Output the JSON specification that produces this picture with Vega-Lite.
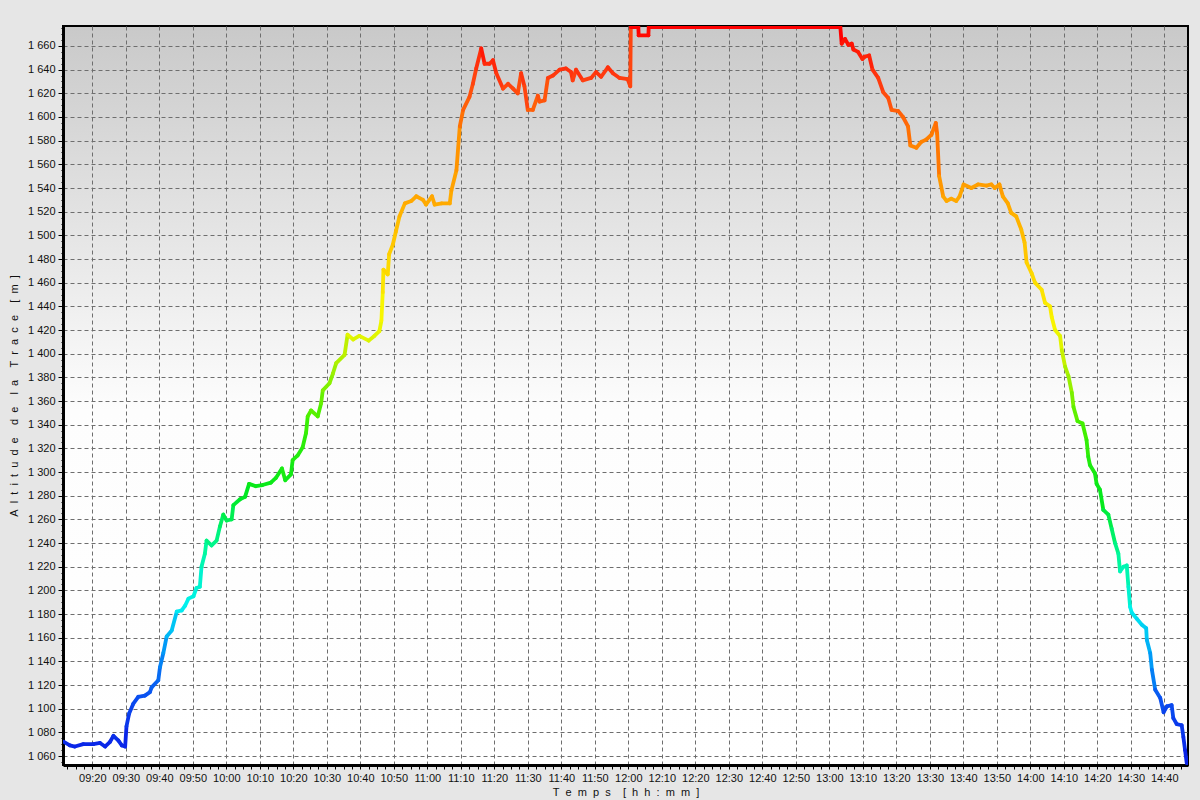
{
 "$schema": "https://vega.github.io/schema/vega-lite/v6.json",
 "width": 1125,
 "height": 739,
 "autosize": "none",
 "padding": {"left": 63, "top": 26, "right": 12, "bottom": 35},
 "background": "#e6e6e6",
 "config": {
  "view": {
   "fill": {"gradient": "linear", "x1": 0, "y1": 0, "x2": 0, "y2": 1,
    "stops": [{"offset": 0, "color": "#c9c9c9"}, {"offset": 0.52, "color": "#fdfdfd"}, {"offset": 1, "color": "#ffffff"}]},
   "stroke": "#000000",
   "strokeWidth": 2
  },
  "axis": {
   "labelFont": "Liberation Sans", "labelFontSize": 11, "labelColor": "#111111",
   "titleFont": "Liberation Sans", "titleFontSize": 11, "titleFontWeight": "normal", "titleColor": "#111111",
   "domainColor": "#000000", "domainWidth": 3, "tickColor": "#000000", "tickWidth": 1,
   "gridColor": "#6e6e6e", "gridDash": [4, 3], "gridWidth": 1
  }
 },
 "data": {"values": [
  {"t": "2024-01-01T09:11:30", "alt": 1072},
  {"t": "2024-01-01T09:13:18", "alt": 1069},
  {"t": "2024-01-01T09:14:48", "alt": 1068},
  {"t": "2024-01-01T09:17:18", "alt": 1070},
  {"t": "2024-01-01T09:20:18", "alt": 1070},
  {"t": "2024-01-01T09:22:18", "alt": 1071},
  {"t": "2024-01-01T09:23:48", "alt": 1068},
  {"t": "2024-01-01T09:25:18", "alt": 1072},
  {"t": "2024-01-01T09:26:18", "alt": 1077},
  {"t": "2024-01-01T09:27:48", "alt": 1073},
  {"t": "2024-01-01T09:28:48", "alt": 1069},
  {"t": "2024-01-01T09:29:48", "alt": 1068},
  {"t": "2024-01-01T09:30:12", "alt": 1085},
  {"t": "2024-01-01T09:31:00", "alt": 1096},
  {"t": "2024-01-01T09:32:12", "alt": 1104},
  {"t": "2024-01-01T09:33:42", "alt": 1110},
  {"t": "2024-01-01T09:35:42", "alt": 1111},
  {"t": "2024-01-01T09:37:12", "alt": 1114},
  {"t": "2024-01-01T09:37:42", "alt": 1118},
  {"t": "2024-01-01T09:39:42", "alt": 1124},
  {"t": "2024-01-01T09:40:12", "alt": 1135},
  {"t": "2024-01-01T09:41:12", "alt": 1147},
  {"t": "2024-01-01T09:42:12", "alt": 1161},
  {"t": "2024-01-01T09:43:42", "alt": 1166},
  {"t": "2024-01-01T09:45:12", "alt": 1182},
  {"t": "2024-01-01T09:46:42", "alt": 1183},
  {"t": "2024-01-01T09:47:42", "alt": 1187},
  {"t": "2024-01-01T09:48:42", "alt": 1193},
  {"t": "2024-01-01T09:50:12", "alt": 1195},
  {"t": "2024-01-01T09:51:06", "alt": 1202},
  {"t": "2024-01-01T09:52:06", "alt": 1203},
  {"t": "2024-01-01T09:52:36", "alt": 1220},
  {"t": "2024-01-01T09:53:36", "alt": 1231},
  {"t": "2024-01-01T09:54:06", "alt": 1242},
  {"t": "2024-01-01T09:55:36", "alt": 1238},
  {"t": "2024-01-01T09:57:06", "alt": 1242},
  {"t": "2024-01-01T09:58:06", "alt": 1254},
  {"t": "2024-01-01T09:59:06", "alt": 1264},
  {"t": "2024-01-01T10:00:06", "alt": 1259},
  {"t": "2024-01-01T10:01:36", "alt": 1260},
  {"t": "2024-01-01T10:02:06", "alt": 1272},
  {"t": "2024-01-01T10:04:06", "alt": 1277},
  {"t": "2024-01-01T10:05:36", "alt": 1279},
  {"t": "2024-01-01T10:06:48", "alt": 1290},
  {"t": "2024-01-01T10:08:48", "alt": 1288},
  {"t": "2024-01-01T10:10:48", "alt": 1289},
  {"t": "2024-01-01T10:13:18", "alt": 1291},
  {"t": "2024-01-01T10:14:48", "alt": 1295},
  {"t": "2024-01-01T10:16:36", "alt": 1303},
  {"t": "2024-01-01T10:17:36", "alt": 1293},
  {"t": "2024-01-01T10:19:18", "alt": 1298},
  {"t": "2024-01-01T10:19:48", "alt": 1310},
  {"t": "2024-01-01T10:21:18", "alt": 1314},
  {"t": "2024-01-01T10:22:48", "alt": 1321},
  {"t": "2024-01-01T10:23:48", "alt": 1333},
  {"t": "2024-01-01T10:24:18", "alt": 1347},
  {"t": "2024-01-01T10:25:18", "alt": 1352},
  {"t": "2024-01-01T10:27:18", "alt": 1347},
  {"t": "2024-01-01T10:28:18", "alt": 1358},
  {"t": "2024-01-01T10:28:48", "alt": 1369},
  {"t": "2024-01-01T10:30:48", "alt": 1375},
  {"t": "2024-01-01T10:31:48", "alt": 1383},
  {"t": "2024-01-01T10:32:48", "alt": 1392},
  {"t": "2024-01-01T10:35:18", "alt": 1399},
  {"t": "2024-01-01T10:36:12", "alt": 1416},
  {"t": "2024-01-01T10:37:54", "alt": 1412},
  {"t": "2024-01-01T10:39:42", "alt": 1415},
  {"t": "2024-01-01T10:42:30", "alt": 1411},
  {"t": "2024-01-01T10:44:12", "alt": 1415},
  {"t": "2024-01-01T10:45:42", "alt": 1419},
  {"t": "2024-01-01T10:46:18", "alt": 1428},
  {"t": "2024-01-01T10:46:42", "alt": 1452},
  {"t": "2024-01-01T10:46:54", "alt": 1471},
  {"t": "2024-01-01T10:48:12", "alt": 1467},
  {"t": "2024-01-01T10:48:36", "alt": 1484},
  {"t": "2024-01-01T10:49:42", "alt": 1492},
  {"t": "2024-01-01T10:50:36", "alt": 1503},
  {"t": "2024-01-01T10:51:42", "alt": 1516},
  {"t": "2024-01-01T10:53:18", "alt": 1527},
  {"t": "2024-01-01T10:55:12", "alt": 1529},
  {"t": "2024-01-01T10:56:42", "alt": 1533},
  {"t": "2024-01-01T10:58:42", "alt": 1530},
  {"t": "2024-01-01T10:59:36", "alt": 1526},
  {"t": "2024-01-01T11:01:24", "alt": 1533},
  {"t": "2024-01-01T11:02:12", "alt": 1526},
  {"t": "2024-01-01T11:04:18", "alt": 1527},
  {"t": "2024-01-01T11:06:42", "alt": 1527},
  {"t": "2024-01-01T11:07:12", "alt": 1538},
  {"t": "2024-01-01T11:08:42", "alt": 1555},
  {"t": "2024-01-01T11:09:42", "alt": 1592},
  {"t": "2024-01-01T11:10:42", "alt": 1606},
  {"t": "2024-01-01T11:12:36", "alt": 1617},
  {"t": "2024-01-01T11:13:36", "alt": 1628},
  {"t": "2024-01-01T11:14:36", "alt": 1641},
  {"t": "2024-01-01T11:16:06", "alt": 1658},
  {"t": "2024-01-01T11:17:06", "alt": 1645},
  {"t": "2024-01-01T11:18:36", "alt": 1645},
  {"t": "2024-01-01T11:19:36", "alt": 1648},
  {"t": "2024-01-01T11:20:36", "alt": 1637},
  {"t": "2024-01-01T11:22:36", "alt": 1624},
  {"t": "2024-01-01T11:24:06", "alt": 1628},
  {"t": "2024-01-01T11:25:36", "alt": 1624},
  {"t": "2024-01-01T11:27:00", "alt": 1620},
  {"t": "2024-01-01T11:28:00", "alt": 1637},
  {"t": "2024-01-01T11:29:00", "alt": 1626},
  {"t": "2024-01-01T11:30:00", "alt": 1606},
  {"t": "2024-01-01T11:31:30", "alt": 1606},
  {"t": "2024-01-01T11:33:00", "alt": 1618},
  {"t": "2024-01-01T11:33:30", "alt": 1613},
  {"t": "2024-01-01T11:35:00", "alt": 1614},
  {"t": "2024-01-01T11:36:00", "alt": 1633},
  {"t": "2024-01-01T11:37:30", "alt": 1635},
  {"t": "2024-01-01T11:39:30", "alt": 1640},
  {"t": "2024-01-01T11:41:24", "alt": 1641},
  {"t": "2024-01-01T11:42:54", "alt": 1638},
  {"t": "2024-01-01T11:43:24", "alt": 1631},
  {"t": "2024-01-01T11:44:24", "alt": 1640},
  {"t": "2024-01-01T11:46:24", "alt": 1631},
  {"t": "2024-01-01T11:48:54", "alt": 1633},
  {"t": "2024-01-01T11:50:24", "alt": 1638},
  {"t": "2024-01-01T11:51:54", "alt": 1634},
  {"t": "2024-01-01T11:53:54", "alt": 1642},
  {"t": "2024-01-01T11:55:24", "alt": 1637},
  {"t": "2024-01-01T11:57:24", "alt": 1633},
  {"t": "2024-01-01T11:59:48", "alt": 1632},
  {"t": "2024-01-01T12:00:36", "alt": 1626},
  {"t": "2024-01-01T12:00:45", "alt": 1676},
  {"t": "2024-01-01T12:03:00", "alt": 1676},
  {"t": "2024-01-01T12:03:06", "alt": 1669},
  {"t": "2024-01-01T12:06:00", "alt": 1669},
  {"t": "2024-01-01T12:06:06", "alt": 1676},
  {"t": "2024-01-01T13:03:18", "alt": 1676},
  {"t": "2024-01-01T13:03:42", "alt": 1662},
  {"t": "2024-01-01T13:04:42", "alt": 1666},
  {"t": "2024-01-01T13:05:42", "alt": 1661},
  {"t": "2024-01-01T13:06:42", "alt": 1662},
  {"t": "2024-01-01T13:07:12", "alt": 1657},
  {"t": "2024-01-01T13:08:36", "alt": 1655},
  {"t": "2024-01-01T13:09:54", "alt": 1649},
  {"t": "2024-01-01T13:10:36", "alt": 1651},
  {"t": "2024-01-01T13:11:54", "alt": 1652},
  {"t": "2024-01-01T13:12:54", "alt": 1640},
  {"t": "2024-01-01T13:14:36", "alt": 1633},
  {"t": "2024-01-01T13:16:06", "alt": 1621},
  {"t": "2024-01-01T13:17:36", "alt": 1616},
  {"t": "2024-01-01T13:18:36", "alt": 1606},
  {"t": "2024-01-01T13:20:36", "alt": 1605},
  {"t": "2024-01-01T13:22:00", "alt": 1600},
  {"t": "2024-01-01T13:23:30", "alt": 1592},
  {"t": "2024-01-01T13:24:12", "alt": 1576},
  {"t": "2024-01-01T13:26:00", "alt": 1574},
  {"t": "2024-01-01T13:27:30", "alt": 1579},
  {"t": "2024-01-01T13:29:00", "alt": 1581},
  {"t": "2024-01-01T13:30:30", "alt": 1585},
  {"t": "2024-01-01T13:31:48", "alt": 1595},
  {"t": "2024-01-01T13:32:12", "alt": 1586},
  {"t": "2024-01-01T13:32:48", "alt": 1550},
  {"t": "2024-01-01T13:34:00", "alt": 1533},
  {"t": "2024-01-01T13:35:00", "alt": 1529},
  {"t": "2024-01-01T13:36:24", "alt": 1531},
  {"t": "2024-01-01T13:37:54", "alt": 1529},
  {"t": "2024-01-01T13:38:54", "alt": 1533},
  {"t": "2024-01-01T13:40:06", "alt": 1543},
  {"t": "2024-01-01T13:42:24", "alt": 1540},
  {"t": "2024-01-01T13:44:24", "alt": 1543},
  {"t": "2024-01-01T13:46:54", "alt": 1542},
  {"t": "2024-01-01T13:48:24", "alt": 1543},
  {"t": "2024-01-01T13:49:24", "alt": 1540},
  {"t": "2024-01-01T13:50:48", "alt": 1543},
  {"t": "2024-01-01T13:51:48", "alt": 1533},
  {"t": "2024-01-01T13:53:18", "alt": 1527},
  {"t": "2024-01-01T13:54:18", "alt": 1519},
  {"t": "2024-01-01T13:55:48", "alt": 1516},
  {"t": "2024-01-01T13:57:18", "alt": 1505},
  {"t": "2024-01-01T13:58:18", "alt": 1494},
  {"t": "2024-01-01T13:58:54", "alt": 1477},
  {"t": "2024-01-01T14:00:24", "alt": 1468},
  {"t": "2024-01-01T14:01:24", "alt": 1460},
  {"t": "2024-01-01T14:03:24", "alt": 1454},
  {"t": "2024-01-01T14:04:24", "alt": 1443},
  {"t": "2024-01-01T14:05:54", "alt": 1440},
  {"t": "2024-01-01T14:06:24", "alt": 1431},
  {"t": "2024-01-01T14:07:24", "alt": 1420},
  {"t": "2024-01-01T14:08:54", "alt": 1415},
  {"t": "2024-01-01T14:09:24", "alt": 1403},
  {"t": "2024-01-01T14:10:24", "alt": 1389},
  {"t": "2024-01-01T14:11:24", "alt": 1381},
  {"t": "2024-01-01T14:12:24", "alt": 1367},
  {"t": "2024-01-01T14:12:54", "alt": 1355},
  {"t": "2024-01-01T14:14:06", "alt": 1343},
  {"t": "2024-01-01T14:15:36", "alt": 1341},
  {"t": "2024-01-01T14:16:48", "alt": 1327},
  {"t": "2024-01-01T14:17:18", "alt": 1313},
  {"t": "2024-01-01T14:17:48", "alt": 1306},
  {"t": "2024-01-01T14:19:18", "alt": 1299},
  {"t": "2024-01-01T14:19:48", "alt": 1290},
  {"t": "2024-01-01T14:20:48", "alt": 1285},
  {"t": "2024-01-01T14:21:48", "alt": 1268},
  {"t": "2024-01-01T14:23:18", "alt": 1264},
  {"t": "2024-01-01T14:24:18", "alt": 1252},
  {"t": "2024-01-01T14:25:18", "alt": 1240},
  {"t": "2024-01-01T14:26:18", "alt": 1231},
  {"t": "2024-01-01T14:26:48", "alt": 1216},
  {"t": "2024-01-01T14:27:48", "alt": 1220},
  {"t": "2024-01-01T14:28:48", "alt": 1221},
  {"t": "2024-01-01T14:29:18", "alt": 1203},
  {"t": "2024-01-01T14:29:48", "alt": 1186},
  {"t": "2024-01-01T14:30:18", "alt": 1181},
  {"t": "2024-01-01T14:31:48", "alt": 1176},
  {"t": "2024-01-01T14:33:18", "alt": 1171},
  {"t": "2024-01-01T14:34:36", "alt": 1168},
  {"t": "2024-01-01T14:34:48", "alt": 1158},
  {"t": "2024-01-01T14:35:48", "alt": 1147},
  {"t": "2024-01-01T14:36:18", "alt": 1133},
  {"t": "2024-01-01T14:37:18", "alt": 1116},
  {"t": "2024-01-01T14:38:48", "alt": 1109},
  {"t": "2024-01-01T14:39:48", "alt": 1097},
  {"t": "2024-01-01T14:40:48", "alt": 1102},
  {"t": "2024-01-01T14:42:12", "alt": 1103},
  {"t": "2024-01-01T14:42:42", "alt": 1092},
  {"t": "2024-01-01T14:43:42", "alt": 1087},
  {"t": "2024-01-01T14:45:12", "alt": 1086},
  {"t": "2024-01-01T14:45:42", "alt": 1076},
  {"t": "2024-01-01T14:46:12", "alt": 1065},
  {"t": "2024-01-01T14:46:42", "alt": 1054}
 ]},
 "transform": [
  {"window": [{"op": "lead", "field": "t", "as": "t2"}, {"op": "lead", "field": "alt", "as": "alt2"}], "sort": [{"field": "t", "order": "ascending"}]},
  {"filter": "datum.t2 != null"}
 ],
 "mark": {"type": "rule", "strokeWidth": 3.8, "strokeCap": "round", "clip": true},
 "encoding": {
  "x": {
   "field": "t", "type": "temporal",
   "scale": {"domain": [
    {"year": 2024, "month": 1, "date": 1, "hours": 9, "minutes": 11, "seconds": 15},
    {"year": 2024, "month": 1, "date": 1, "hours": 14, "minutes": 47, "seconds": 5}
   ]},
   "axis": {
    "title": "T\u00a0\u00a0e\u00a0\u00a0m\u00a0\u00a0p\u00a0\u00a0s\u00a0\u00a0\u00a0\u00a0[\u00a0\u00a0h\u00a0\u00a0h\u00a0\u00a0:\u00a0\u00a0m\u00a0\u00a0m\u00a0\u00a0]",
    "grid": true,
    "values": [
     {"year":2024,"month":1,"date":1,"hours":9,"minutes":12,"seconds":30},
     {"year":2024,"month":1,"date":1,"hours":9,"minutes":15},
     {"year":2024,"month":1,"date":1,"hours":9,"minutes":17,"seconds":30},
     {"year":2024,"month":1,"date":1,"hours":9,"minutes":20},
     {"year":2024,"month":1,"date":1,"hours":9,"minutes":22,"seconds":30},
     {"year":2024,"month":1,"date":1,"hours":9,"minutes":25},
     {"year":2024,"month":1,"date":1,"hours":9,"minutes":27,"seconds":30},
     {"year":2024,"month":1,"date":1,"hours":9,"minutes":30},
     {"year":2024,"month":1,"date":1,"hours":9,"minutes":32,"seconds":30},
     {"year":2024,"month":1,"date":1,"hours":9,"minutes":35},
     {"year":2024,"month":1,"date":1,"hours":9,"minutes":37,"seconds":30},
     {"year":2024,"month":1,"date":1,"hours":9,"minutes":40},
     {"year":2024,"month":1,"date":1,"hours":9,"minutes":42,"seconds":30},
     {"year":2024,"month":1,"date":1,"hours":9,"minutes":45},
     {"year":2024,"month":1,"date":1,"hours":9,"minutes":47,"seconds":30},
     {"year":2024,"month":1,"date":1,"hours":9,"minutes":50},
     {"year":2024,"month":1,"date":1,"hours":9,"minutes":52,"seconds":30},
     {"year":2024,"month":1,"date":1,"hours":9,"minutes":55},
     {"year":2024,"month":1,"date":1,"hours":9,"minutes":57,"seconds":30},
     {"year":2024,"month":1,"date":1,"hours":10,"minutes":0},
     {"year":2024,"month":1,"date":1,"hours":10,"minutes":2,"seconds":30},
     {"year":2024,"month":1,"date":1,"hours":10,"minutes":5},
     {"year":2024,"month":1,"date":1,"hours":10,"minutes":7,"seconds":30},
     {"year":2024,"month":1,"date":1,"hours":10,"minutes":10},
     {"year":2024,"month":1,"date":1,"hours":10,"minutes":12,"seconds":30},
     {"year":2024,"month":1,"date":1,"hours":10,"minutes":15},
     {"year":2024,"month":1,"date":1,"hours":10,"minutes":17,"seconds":30},
     {"year":2024,"month":1,"date":1,"hours":10,"minutes":20},
     {"year":2024,"month":1,"date":1,"hours":10,"minutes":22,"seconds":30},
     {"year":2024,"month":1,"date":1,"hours":10,"minutes":25},
     {"year":2024,"month":1,"date":1,"hours":10,"minutes":27,"seconds":30},
     {"year":2024,"month":1,"date":1,"hours":10,"minutes":30},
     {"year":2024,"month":1,"date":1,"hours":10,"minutes":32,"seconds":30},
     {"year":2024,"month":1,"date":1,"hours":10,"minutes":35},
     {"year":2024,"month":1,"date":1,"hours":10,"minutes":37,"seconds":30},
     {"year":2024,"month":1,"date":1,"hours":10,"minutes":40},
     {"year":2024,"month":1,"date":1,"hours":10,"minutes":42,"seconds":30},
     {"year":2024,"month":1,"date":1,"hours":10,"minutes":45},
     {"year":2024,"month":1,"date":1,"hours":10,"minutes":47,"seconds":30},
     {"year":2024,"month":1,"date":1,"hours":10,"minutes":50},
     {"year":2024,"month":1,"date":1,"hours":10,"minutes":52,"seconds":30},
     {"year":2024,"month":1,"date":1,"hours":10,"minutes":55},
     {"year":2024,"month":1,"date":1,"hours":10,"minutes":57,"seconds":30},
     {"year":2024,"month":1,"date":1,"hours":11,"minutes":0},
     {"year":2024,"month":1,"date":1,"hours":11,"minutes":2,"seconds":30},
     {"year":2024,"month":1,"date":1,"hours":11,"minutes":5},
     {"year":2024,"month":1,"date":1,"hours":11,"minutes":7,"seconds":30},
     {"year":2024,"month":1,"date":1,"hours":11,"minutes":10},
     {"year":2024,"month":1,"date":1,"hours":11,"minutes":12,"seconds":30},
     {"year":2024,"month":1,"date":1,"hours":11,"minutes":15},
     {"year":2024,"month":1,"date":1,"hours":11,"minutes":17,"seconds":30},
     {"year":2024,"month":1,"date":1,"hours":11,"minutes":20},
     {"year":2024,"month":1,"date":1,"hours":11,"minutes":22,"seconds":30},
     {"year":2024,"month":1,"date":1,"hours":11,"minutes":25},
     {"year":2024,"month":1,"date":1,"hours":11,"minutes":27,"seconds":30},
     {"year":2024,"month":1,"date":1,"hours":11,"minutes":30},
     {"year":2024,"month":1,"date":1,"hours":11,"minutes":32,"seconds":30},
     {"year":2024,"month":1,"date":1,"hours":11,"minutes":35},
     {"year":2024,"month":1,"date":1,"hours":11,"minutes":37,"seconds":30},
     {"year":2024,"month":1,"date":1,"hours":11,"minutes":40},
     {"year":2024,"month":1,"date":1,"hours":11,"minutes":42,"seconds":30},
     {"year":2024,"month":1,"date":1,"hours":11,"minutes":45},
     {"year":2024,"month":1,"date":1,"hours":11,"minutes":47,"seconds":30},
     {"year":2024,"month":1,"date":1,"hours":11,"minutes":50},
     {"year":2024,"month":1,"date":1,"hours":11,"minutes":52,"seconds":30},
     {"year":2024,"month":1,"date":1,"hours":11,"minutes":55},
     {"year":2024,"month":1,"date":1,"hours":11,"minutes":57,"seconds":30},
     {"year":2024,"month":1,"date":1,"hours":12,"minutes":0},
     {"year":2024,"month":1,"date":1,"hours":12,"minutes":2,"seconds":30},
     {"year":2024,"month":1,"date":1,"hours":12,"minutes":5},
     {"year":2024,"month":1,"date":1,"hours":12,"minutes":7,"seconds":30},
     {"year":2024,"month":1,"date":1,"hours":12,"minutes":10},
     {"year":2024,"month":1,"date":1,"hours":12,"minutes":12,"seconds":30},
     {"year":2024,"month":1,"date":1,"hours":12,"minutes":15},
     {"year":2024,"month":1,"date":1,"hours":12,"minutes":17,"seconds":30},
     {"year":2024,"month":1,"date":1,"hours":12,"minutes":20},
     {"year":2024,"month":1,"date":1,"hours":12,"minutes":22,"seconds":30},
     {"year":2024,"month":1,"date":1,"hours":12,"minutes":25},
     {"year":2024,"month":1,"date":1,"hours":12,"minutes":27,"seconds":30},
     {"year":2024,"month":1,"date":1,"hours":12,"minutes":30},
     {"year":2024,"month":1,"date":1,"hours":12,"minutes":32,"seconds":30},
     {"year":2024,"month":1,"date":1,"hours":12,"minutes":35},
     {"year":2024,"month":1,"date":1,"hours":12,"minutes":37,"seconds":30},
     {"year":2024,"month":1,"date":1,"hours":12,"minutes":40},
     {"year":2024,"month":1,"date":1,"hours":12,"minutes":42,"seconds":30},
     {"year":2024,"month":1,"date":1,"hours":12,"minutes":45},
     {"year":2024,"month":1,"date":1,"hours":12,"minutes":47,"seconds":30},
     {"year":2024,"month":1,"date":1,"hours":12,"minutes":50},
     {"year":2024,"month":1,"date":1,"hours":12,"minutes":52,"seconds":30},
     {"year":2024,"month":1,"date":1,"hours":12,"minutes":55},
     {"year":2024,"month":1,"date":1,"hours":12,"minutes":57,"seconds":30},
     {"year":2024,"month":1,"date":1,"hours":13,"minutes":0},
     {"year":2024,"month":1,"date":1,"hours":13,"minutes":2,"seconds":30},
     {"year":2024,"month":1,"date":1,"hours":13,"minutes":5},
     {"year":2024,"month":1,"date":1,"hours":13,"minutes":7,"seconds":30},
     {"year":2024,"month":1,"date":1,"hours":13,"minutes":10},
     {"year":2024,"month":1,"date":1,"hours":13,"minutes":12,"seconds":30},
     {"year":2024,"month":1,"date":1,"hours":13,"minutes":15},
     {"year":2024,"month":1,"date":1,"hours":13,"minutes":17,"seconds":30},
     {"year":2024,"month":1,"date":1,"hours":13,"minutes":20},
     {"year":2024,"month":1,"date":1,"hours":13,"minutes":22,"seconds":30},
     {"year":2024,"month":1,"date":1,"hours":13,"minutes":25},
     {"year":2024,"month":1,"date":1,"hours":13,"minutes":27,"seconds":30},
     {"year":2024,"month":1,"date":1,"hours":13,"minutes":30},
     {"year":2024,"month":1,"date":1,"hours":13,"minutes":32,"seconds":30},
     {"year":2024,"month":1,"date":1,"hours":13,"minutes":35},
     {"year":2024,"month":1,"date":1,"hours":13,"minutes":37,"seconds":30},
     {"year":2024,"month":1,"date":1,"hours":13,"minutes":40},
     {"year":2024,"month":1,"date":1,"hours":13,"minutes":42,"seconds":30},
     {"year":2024,"month":1,"date":1,"hours":13,"minutes":45},
     {"year":2024,"month":1,"date":1,"hours":13,"minutes":47,"seconds":30},
     {"year":2024,"month":1,"date":1,"hours":13,"minutes":50},
     {"year":2024,"month":1,"date":1,"hours":13,"minutes":52,"seconds":30},
     {"year":2024,"month":1,"date":1,"hours":13,"minutes":55},
     {"year":2024,"month":1,"date":1,"hours":13,"minutes":57,"seconds":30},
     {"year":2024,"month":1,"date":1,"hours":14,"minutes":0},
     {"year":2024,"month":1,"date":1,"hours":14,"minutes":2,"seconds":30},
     {"year":2024,"month":1,"date":1,"hours":14,"minutes":5},
     {"year":2024,"month":1,"date":1,"hours":14,"minutes":7,"seconds":30},
     {"year":2024,"month":1,"date":1,"hours":14,"minutes":10},
     {"year":2024,"month":1,"date":1,"hours":14,"minutes":12,"seconds":30},
     {"year":2024,"month":1,"date":1,"hours":14,"minutes":15},
     {"year":2024,"month":1,"date":1,"hours":14,"minutes":17,"seconds":30},
     {"year":2024,"month":1,"date":1,"hours":14,"minutes":20},
     {"year":2024,"month":1,"date":1,"hours":14,"minutes":22,"seconds":30},
     {"year":2024,"month":1,"date":1,"hours":14,"minutes":25},
     {"year":2024,"month":1,"date":1,"hours":14,"minutes":27,"seconds":30},
     {"year":2024,"month":1,"date":1,"hours":14,"minutes":30},
     {"year":2024,"month":1,"date":1,"hours":14,"minutes":32,"seconds":30},
     {"year":2024,"month":1,"date":1,"hours":14,"minutes":35},
     {"year":2024,"month":1,"date":1,"hours":14,"minutes":37,"seconds":30},
     {"year":2024,"month":1,"date":1,"hours":14,"minutes":40},
     {"year":2024,"month":1,"date":1,"hours":14,"minutes":42,"seconds":30},
     {"year":2024,"month":1,"date":1,"hours":14,"minutes":45}
    ],
    "labelExpr": "(minutes(datum.value) % 10 === 0 && seconds(datum.value) === 0) ? timeFormat(datum.value, '%H:%M') : ''",
    "labelOverlap": false,
    "labelFlush": false,
    "tickSize": 4,
    "labelPadding": 3,
    "titlePadding": 3,
    "gridOpacity": {"condition": {"test": "minutes(datum.value) % 10 === 0 && seconds(datum.value) === 0", "value": 1}, "value": 0}
   }
  },
  "x2": {"field": "t2"},
  "y": {
   "field": "alt", "type": "quantitative",
   "scale": {"domain": [1052.4, 1676.9], "nice": false, "zero": false},
   "axis": {
    "title": "A\u00a0\u00a0l\u00a0\u00a0t\u00a0\u00a0i\u00a0\u00a0t\u00a0\u00a0u\u00a0\u00a0d\u00a0\u00a0e\u00a0\u00a0\u00a0\u00a0d\u00a0\u00a0e\u00a0\u00a0\u00a0\u00a0l\u00a0\u00a0a\u00a0\u00a0\u00a0\u00a0T\u00a0\u00a0r\u00a0\u00a0a\u00a0\u00a0c\u00a0\u00a0e\u00a0\u00a0\u00a0\u00a0[\u00a0\u00a0m\u00a0\u00a0]",
    "grid": true,
    "values": [1055,1060,1065,1070,1075,1080,1085,1090,1095,1100,1105,1110,1115,1120,1125,1130,1135,1140,1145,1150,1155,1160,1165,1170,1175,1180,1185,1190,1195,1200,1205,1210,1215,1220,1225,1230,1235,1240,1245,1250,1255,1260,1265,1270,1275,1280,1285,1290,1295,1300,1305,1310,1315,1320,1325,1330,1335,1340,1345,1350,1355,1360,1365,1370,1375,1380,1385,1390,1395,1400,1405,1410,1415,1420,1425,1430,1435,1440,1445,1450,1455,1460,1465,1470,1475,1480,1485,1490,1495,1500,1505,1510,1515,1520,1525,1530,1535,1540,1545,1550,1555,1560,1565,1570,1575,1580,1585,1590,1595,1600,1605,1610,1615,1620,1625,1630,1635,1640,1645,1650,1655,1660,1665,1670,1675],
    "labelExpr": "datum.value % 20 === 0 ? replace(format(datum.value, ','), ',', ' ') : ''",
    "labelOverlap": false,
    "labelFlush": false,
    "labelPadding": 3,
    "tickSize": {"condition": {"test": "datum.value % 20 === 0", "value": 5}, "value": 2},
    "gridOpacity": {"condition": {"test": "datum.value % 20 === 0", "value": 1}, "value": 0},
    "titlePadding": 8
   }
  },
  "y2": {"field": "alt2"},
  "color": {
   "field": "alt", "type": "quantitative", "legend": null,
   "scale": {
    "domain": [1060, 1110, 1150, 1185, 1230, 1280, 1340, 1400, 1425, 1480, 1530, 1580, 1630, 1676],
    "range": ["#0a1ee6", "#0a50f0", "#00a0f8", "#00f0f0", "#00f8a0", "#00e81e", "#40f000", "#c0f000", "#f8f800", "#ffd000", "#ffa800", "#ff8000", "#ff4010", "#ff0000"],
    "interpolate": "rgb"
   }
  }
 }
}
